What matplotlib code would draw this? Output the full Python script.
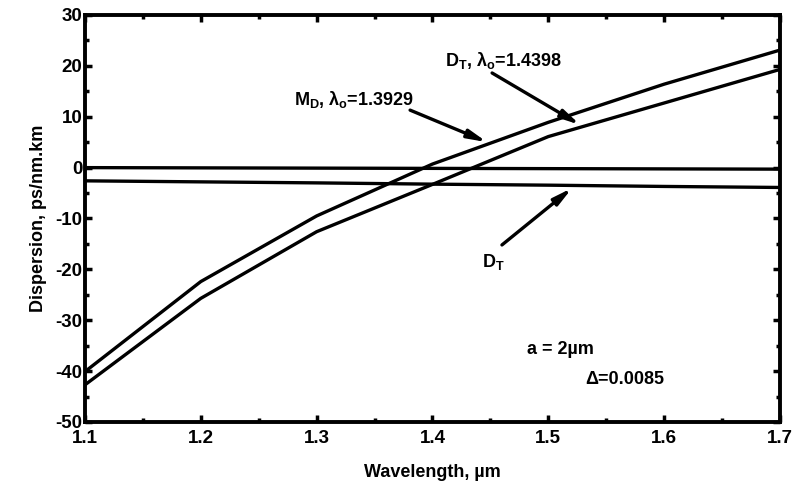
import matplotlib
matplotlib.use("Agg")
import matplotlib.pyplot as plt
from matplotlib.ticker import MultipleLocator, FormatStrFormatter

plt.rcParams['font.family'] = ['Liberation Sans', 'DejaVu Sans']
plt.rcParams['font.weight'] = 'bold'
plt.rcParams['axes.unicode_minus'] = False
plt.rcParams['mathtext.fontset'] = 'custom'
plt.rcParams['mathtext.rm'] = 'Liberation Sans:bold'
plt.rcParams['mathtext.it'] = 'Liberation Sans:bold'
plt.rcParams['mathtext.bf'] = 'Liberation Sans:bold'

# Data
wavelength = [1.1, 1.2, 1.3, 1.4, 1.5, 1.6, 1.7]
md_curve = [-40.1, -22.4, -9.5, 0.7, 8.9, 16.4, 23.1]      # M_D, lambda0 = 1.3929
dt_curve = [-42.7, -25.7, -12.6, -3.3, 6.1, 12.7, 19.3]    # D_T, lambda0 = 1.4398
flat_upper = [0.0, -0.05, -0.1, -0.15, -0.2, -0.25, -0.3]
flat_lower = [-2.6, -2.8, -3.0, -3.25, -3.45, -3.7, -3.9]

fig = plt.figure(figsize=(7.97, 4.90), dpi=100)
ax = fig.add_axes([0.1066, 0.1388, 0.872, 0.8306])

lw = 2.4
for ys in (md_curve, dt_curve, flat_upper, flat_lower):
    ax.plot(wavelength, ys, color='black', lw=lw, solid_joinstyle='miter')

ax.set_xlim(1.1, 1.7)
ax.set_ylim(-50, 30)
ax.xaxis.set_major_locator(MultipleLocator(0.1))
ax.xaxis.set_minor_locator(MultipleLocator(0.05))
ax.xaxis.set_major_formatter(FormatStrFormatter('%.1f'))
ax.yaxis.set_major_locator(MultipleLocator(10))
ax.yaxis.set_minor_locator(MultipleLocator(5))
ax.tick_params(which='both', direction='in', top=True, right=True, width=2.5)
ax.tick_params(which='major', length=5, labelsize=13.5)
ax.tick_params(axis='y', which='major', pad=2)
ax.tick_params(axis='x', which='major', pad=6)
ax.tick_params(which='minor', length=3)
for s in ax.spines.values():
    s.set_linewidth(2.8)
for lab in ax.get_xticklabels() + ax.get_yticklabels():
    lab.set_fontweight('bold')

ax.set_xlabel('Wavelength, \u00b5m', fontsize=13, fontweight='bold', labelpad=12)
ax.set_ylabel('Dispersion, ps/nm.km', fontsize=13, fontweight='bold', labelpad=6)

fs = 13
astyle = dict(arrowstyle='-|>,head_length=1.1,head_width=0.25', color='black', lw=2.4,
              shrinkA=0, shrinkB=0)

ax.text(1.411, 21.1, r'$\mathrm{D_T}$, $\lambda_\mathrm{o}$=1.4398', fontsize=fs,
        fontweight='bold', va='center', ha='left')
ax.annotate('', xy=(1.5275, 8.4), xytext=(1.4515, 18.6), arrowprops=astyle)

ax.text(1.2805, 13.3, r'$\mathrm{M_D}$, $\lambda_\mathrm{o}$=1.3929', fontsize=fs,
        fontweight='bold', va='center', ha='left')
ax.annotate('', xy=(1.4472, 5.0), xytext=(1.3807, 11.3), arrowprops=astyle)

ax.text(1.443, -18.5, r'$\mathrm{D_T}$', fontsize=fs, fontweight='bold', va='center', ha='left')
ax.annotate('', xy=(1.5206, -4.0), xytext=(1.460, -15.2), arrowprops=astyle)

ax.text(1.4817, -35.8, 'a = 2\u00b5m', fontsize=fs, fontweight='bold', va='center', ha='left')
ax.text(1.5318, -41.7, '\u0394=0.0085', fontsize=fs, fontweight='bold', va='center', ha='left')

fig.savefig('out.png', dpi=100)
